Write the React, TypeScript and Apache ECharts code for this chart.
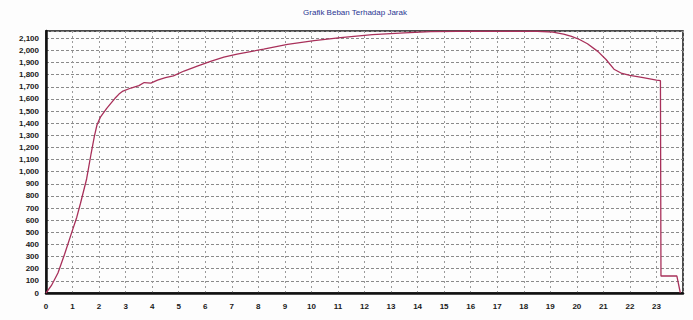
import React, { useEffect, useRef } from "react";
import * as echarts from "echarts";

const TITLE = "Grafik Beban Terhadap Jarak";

// distance (x) and load (y) samples
const jarak = [
  0, 0.2, 0.45, 0.7, 0.97, 1.16, 1.3, 1.53, 1.7, 1.82, 1.92, 2.05, 2.28, 2.45, 2.6, 2.75, 2.9,
  3.2, 3.5, 3.7, 3.95, 4.2, 4.5, 4.8, 5.2, 5.7, 6.2, 6.7, 7.2, 8.2, 9.1, 10.1, 11.1, 12.3, 13.5,
  14.5, 15.5, 16.5, 17.5, 18.5, 19.1, 19.5, 19.8, 20.1, 20.4, 20.8, 21.1, 21.4, 21.7, 22.0, 22.5,
  23.0, 23.15, 23.17, 23.77, 23.9,
];
const beban = [
  0, 60, 165, 320, 500, 625, 740, 940, 1150, 1290, 1385, 1450, 1520, 1565, 1605, 1640, 1665,
  1690, 1710, 1735, 1730, 1755, 1775, 1790, 1830, 1870, 1910, 1945, 1970, 2010, 2050, 2080, 2105,
  2130, 2145, 2155, 2158, 2158, 2158, 2158, 2150, 2135, 2115, 2090, 2055, 1990, 1925, 1845, 1810,
  1795, 1775, 1755, 1750, 140, 140, 0,
];

const X_MIN = 0;
const X_MAX = 24;
const X_STEP = 1;
const Y_MIN = 0;
const Y_MAX = 2160;
const Y_STEP = 100;

export default function App() {
  const ref = useRef<HTMLDivElement>(null);
  useEffect(() => {
    document.body.style.margin = "0";
    if (!ref.current) return;
    const chart = echarts.init(ref.current, undefined, { renderer: "svg" });
    const data = jarak.map((x, i) => [x, beban[i]]);
    const labelStyle = {
      color: "#1a1a1a",
      fontSize: 8,
      fontWeight: "bold" as const,
      fontFamily: "Liberation Sans, Arial, sans-serif",
    };
    chart.setOption({
      animation: false,
      backgroundColor: "#fdfdfd",
      title: {
        text: TITLE,
        left: 350,
        textAlign: "center",
        top: 3,
        textStyle: {
          color: "#2a3592",
          fontSize: 8,
          fontWeight: "normal",
          fontFamily: "Liberation Sans, Arial, sans-serif",
        },
      },
      grid: {
        left: 46,
        right: 10,
        top: 31,
        bottom: 27,
        show: true,
        borderColor: "#111",
        borderWidth: 1.5,
      },
      xAxis: {
        type: "value",
        min: X_MIN,
        max: X_MAX,
        interval: X_STEP,
        axisLine: { show: true, lineStyle: { color: "#111", width: 2.5 } },
        axisTick: { show: false },
        axisLabel: { ...labelStyle, margin: 9, showMaxLabel: false },
        splitLine: {
          show: true,
          lineStyle: { color: "#9a9a9a", type: [2, 3], width: 1 },
        },
      },
      yAxis: {
        type: "value",
        min: Y_MIN,
        max: Y_MAX,
        interval: Y_STEP,
        axisLine: { show: true, lineStyle: { color: "#111", width: 2.5 } },
        axisTick: { show: false },
        axisLabel: {
          ...labelStyle,
          margin: 7,
          showMaxLabel: false,
          formatter: (v: number) => (v > 2100 ? "" : v.toLocaleString("en-US")),
        },
        splitLine: {
          show: true,
          lineStyle: { color: "#8a8a8a", type: [3, 2], width: 1 },
        },
      },
      series: [
        {
          type: "line",
          data,
          showSymbol: false,
          lineStyle: { color: "#a8305a", width: 1.3 },
        },
      ],
    });
    return () => chart.dispose();
  }, []);
  return <div ref={ref} style={{ width: 693, height: 320 }} />;
}
